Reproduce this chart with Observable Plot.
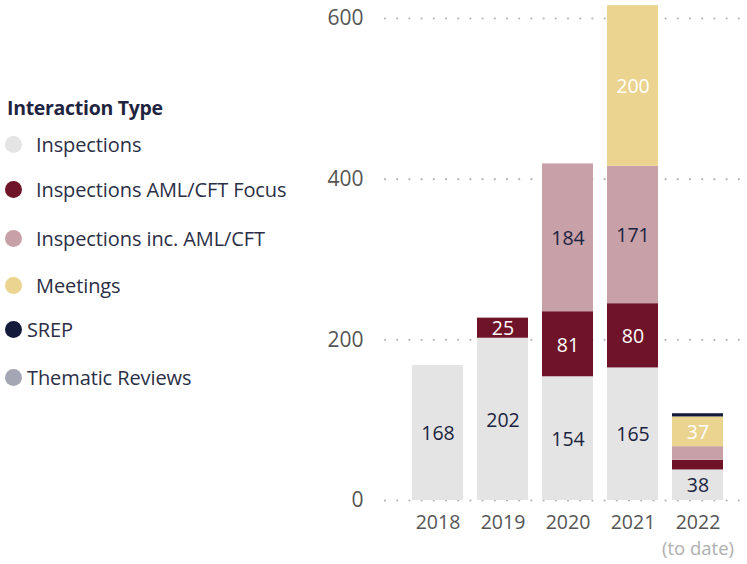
<!DOCTYPE html>
<html>
<head>
<meta charset="utf-8">
<script src="https://cdn.jsdelivr.net/npm/d3@7"></script>
<script src="https://cdn.jsdelivr.net/npm/@observablehq/plot@0.6"></script>
<style>
  html, body { margin: 0; padding: 0; background: #fff; }
  #wrap { position: relative; width: 747px; height: 564px; font-family: "Open Sans", sans-serif; }
  #chart { position: absolute; left: 0; top: 0; }
  .legend-title { position: absolute; left: 7px; top: 94px; font-size: 19.5px; font-weight: 700; color: #1f2540; letter-spacing: -0.3px; }
  .legend-item { position: absolute; left: 5px; font-size: 20px; color: #2b2f46; display: flex; align-items: center; letter-spacing: -0.1px; }
  .legend-item .dot { width: 17px; height: 17px; border-radius: 50%; margin-right: 14px; }
</style>
</head>
<body>
<div id="wrap">
  <div id="chart"></div>
  <div id="legend"></div>
</div>
<script>
const years = ["2018", "2019", "2020", "2021", "2022"];
const series = ["Inspections", "Inspections AML/CFT Focus", "Inspections inc. AML/CFT", "Meetings", "SREP", "Thematic Reviews"];
const colors = ["#e4e4e4", "#6f1329", "#c8a0a8", "#ead48f", "#141a3a", "#a4a6b4"];
const inspections = [168, 202, 154, 165, 38];
const focus = [0, 25, 81, 80, 12];
const incAml = [0, 0, 184, 171, 17];
const meetings = [0, 0, 0, 200, 37];
const srep = [0, 0, 0, 0, 4];
const thematic = [0, 0, 0, 0, 0];
const yTicks = [0, 200, 400, 600];
const yearNotes = ["", "", "", "", "(to date)"];
const legendTitle = "Interaction Type";
const labelColors = ["#1a2340", "#ffffff", "#1a2340", "#ffffff", "#ffffff", "#ffffff"];

const valuesBySeries = [inspections, focus, incAml, meetings, srep, thematic];
const data = [];
years.forEach((yr, i) => {
  series.forEach((s, j) => {
    data.push({year: yr, type: s, value: valuesBySeries[j][i], labelColor: labelColors[j]});
  });
});
const notes = years.map((yr, i) => ({year: yr, note: yearNotes[i]})).filter(d => d.note);

const chart = Plot.plot({
  width: 747,
  height: 564,
  marginLeft: 397,
  marginRight: 9,
  marginTop: 18,
  marginBottom: 64,
  style: {fontFamily: "Open Sans, sans-serif", background: "transparent"},
  x: {domain: years, padding: 0.22, label: null},
  y: {domain: [0, 600], label: null},
  color: {domain: series, range: colors},
  marks: [
    Plot.ruleY(yTicks, {stroke: "#b5b5b5", strokeWidth: 2.2, strokeDasharray: "0 12.2", strokeLinecap: "round", insetLeft: -12, insetRight: -7}),
    Plot.barY(data, {x: "year", y: "value", fill: "type", order: series}),
    Plot.text(data, Plot.stackY({x: "year", y: "value", z: "type", order: series,
      text: d => d.value >= 20 ? String(d.value) : "",
      fill: "labelColor", fontSize: 19.5, dy: 1})),
    Plot.axisY({ticks: yTicks, tickSize: 0, tickPadding: 34, fontSize: 21, color: "#555", label: null}),
    Plot.axisX({tickSize: 0, tickPadding: 15, fontSize: 19.5, color: "#555", label: null}),
    Plot.text(notes, {x: "year", text: "note", frameAnchor: "bottom", dy: 54, fill: "#b0b0b0", fontSize: 18.5})
  ]
});
document.getElementById("chart").appendChild(chart);

// Legend (HTML)
const legend = document.getElementById("legend");
const t = document.createElement("div");
t.className = "legend-title";
t.textContent = legendTitle;
legend.appendChild(t);
const itemTops = [145, 190, 239, 286, 330, 378];
series.forEach((s, i) => {
  const it = document.createElement("div");
  it.className = "legend-item";
  it.style.top = (itemTops[i] - 14) + "px";
  const dot = document.createElement("span");
  dot.className = "dot";
  dot.style.background = colors[i];
  if (i >= 4) dot.style.marginRight = "5px";
  const lab = document.createElement("span");
  lab.textContent = s;
  it.appendChild(dot);
  it.appendChild(lab);
  legend.appendChild(it);
});
</script>
</body>
</html>
